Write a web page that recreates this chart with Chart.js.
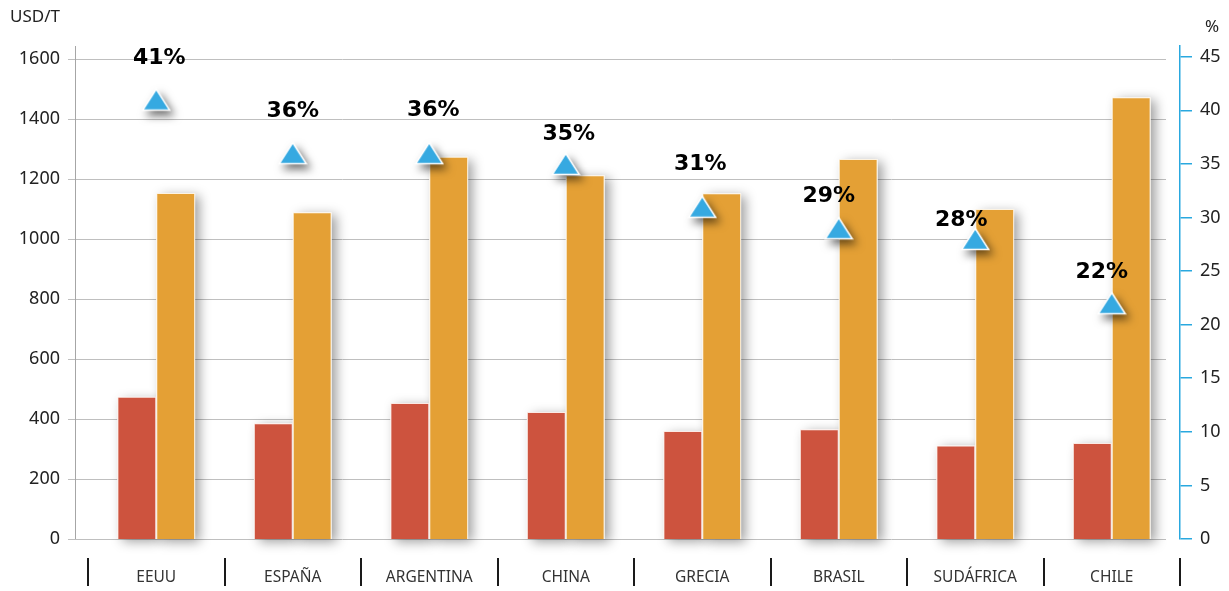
<!DOCTYPE html>
<html>
<head>
<meta charset="utf-8">
<script src="https://cdn.jsdelivr.net/npm/chart.js@4/dist/chart.umd.min.js"></script>
<style>
  html, body { margin: 0; padding: 0; background: #fff; }
  #wrap { width: 1229px; height: 591px; }
</style>
</head>
<body>
<div id="wrap"><canvas id="priceChart" width="1229" height="591"></canvas></div>
<script>
const countries = ["EEUU", "ESPAÑA", "ARGENTINA", "CHINA", "GRECIA", "BRASIL", "SUDÁFRICA", "CHILE"];
const costUSD = [474, 386, 453, 423, 360, 366, 312, 320];
const priceUSD = [1153, 1089, 1274, 1212, 1152, 1266, 1100, 1472];
const marginPct = [41, 36, 36, 35, 31, 29, 28, 22];
const usdTicks = [0, 200, 400, 600, 800, 1000, 1200, 1400, 1600];
const pctTicks = [0, 5, 10, 15, 20, 25, 30, 35, 40, 45];

// nudges for the % labels so they sit where they were placed by hand
const labelShift = [[3, -41], [0, -42], [4, -43], [3, -30], [-2, -42], [-10, -32], [-14, -19], [-10, -31]];

const RED = '#cd533e';
const ORANGE = '#e4a035';
const BLUE = '#36a9e1';
const AXIS_BLUE = '#29a8df';

// triangle marker drawn once on a small canvas, centred on its bounding box
function makeTriangle() {
    const c = document.createElement('canvas');
    c.width = 30; c.height = 26;
    const g = c.getContext('2d');
    g.beginPath();
    g.moveTo(15, 2.5);
    g.lineTo(28.5, 23.5);
    g.lineTo(1.5, 23.5);
    g.closePath();
    g.fillStyle = BLUE;
    g.fill();
    g.strokeStyle = '#fff';
    g.lineWidth = 1.5;
    g.stroke();
    return c;
}

const decorations = {
    id: 'decorations',
    beforeDatasetsDraw(chart) {
        const { ctx, chartArea: a, scales } = chart;
        const y = scales.y;
        ctx.save();
        // horizontal gridlines
        ctx.strokeStyle = '#bfbfbf';
        ctx.lineWidth = 1;
        ctx.beginPath();
        y.ticks.forEach(t => {
            const py = Math.round(y.getPixelForValue(t.value)) + 0.5;
            ctx.moveTo(a.left - 20, py);
            ctx.lineTo(a.right - 14, py);
        });
        ctx.stroke();
        // left axis line
        ctx.strokeStyle = '#a6a6a6';
        ctx.beginPath();
        ctx.moveTo(a.left - 12.5, a.top);
        ctx.lineTo(a.left - 12.5, a.bottom);
        ctx.stroke();
        // soft shadows under the bars
        ctx.shadowColor = 'rgba(0,0,0,0.38)';
        ctx.shadowBlur = 11;
        ctx.shadowOffsetX = 5;
        ctx.shadowOffsetY = 3;
        ctx.fillStyle = '#fff';
        [1, 2].forEach(i => {
            chart.getDatasetMeta(i).data.forEach(bar => {
                const p = bar.getProps(['x', 'y', 'base', 'width']);
                ctx.fillRect(p.x - p.width / 2, p.y, p.width, p.base - p.y);
            });
        });
        ctx.restore();
    },
    beforeDatasetDraw(chart, args) {
        if (args.meta.type === 'line') {
            const ctx = chart.ctx;
            ctx.save();
            ctx.shadowColor = 'rgba(0,0,0,0.55)';
            ctx.shadowBlur = 9;
            ctx.shadowOffsetX = 4;
            ctx.shadowOffsetY = 5;
        }
    },
    afterDatasetDraw(chart, args) {
        if (args.meta.type === 'line') chart.ctx.restore();
    },
    afterDatasetsDraw(chart) {
        const { ctx, chartArea: a, scales } = chart;
        ctx.save();
        // percentage labels above the triangles
        ctx.font = 'bold 22px "DejaVu Sans"';
        ctx.fillStyle = '#000';
        ctx.textAlign = 'center';
        ctx.textBaseline = 'middle';
        chart.getDatasetMeta(0).data.forEach((pt, i) => {
            const [dx, dy] = labelShift[i];
            ctx.fillText(marginPct[i] + '%', pt.x + dx, pt.y + dy);
        });

        // separators between category labels
        const x = scales.x;
        const step = x.getPixelForTick(1) - x.getPixelForTick(0);
        ctx.strokeStyle = '#1a1a1a';
        ctx.lineWidth = 2;
        ctx.beginPath();
        for (let i = 0; i <= countries.length; i++) {
            const px = Math.round(x.getPixelForTick(0) - step / 2 + i * step);
            ctx.moveTo(px, a.bottom + 19);
            ctx.lineTo(px, a.bottom + 47);
        }
        ctx.stroke();

        // unit captions
        ctx.font = '17px "Noto Sans"';
        ctx.fillStyle = '#222';
        ctx.textAlign = 'left';
        ctx.fillText('USD/T', 10, 17);
        ctx.fillText('%', 1205, 27);
        ctx.restore();
    }
};

const ctx = document.getElementById('priceChart').getContext('2d');

new Chart(ctx, {
    data: {
        labels: countries,
        datasets: [
            {
                type: 'line',
                label: 'Margen',
                data: marginPct,
                yAxisID: 'y1',
                showLine: false,
                pointStyle: makeTriangle(),
                pointRadius: 13,
                clip: false,
                order: 0
            },
            {
                type: 'bar',
                label: 'Coste',
                data: costUSD,
                yAxisID: 'y',
                backgroundColor: RED,
                borderColor: '#fbe9e4',
                borderWidth: 1,
                categoryPercentage: 0.57,
                barPercentage: 1.0,
                order: 1
            },
            {
                type: 'bar',
                label: 'Precio',
                data: priceUSD,
                yAxisID: 'y',
                backgroundColor: ORANGE,
                borderColor: '#fdf3e2',
                borderWidth: 1,
                categoryPercentage: 0.57,
                barPercentage: 1.0,
                order: 1
            }
        ]
    },
    plugins: [decorations],
    options: {
        responsive: false,
        animation: false,
        devicePixelRatio: 1,
        layout: { padding: { top: 46, left: 0, right: 0, bottom: 0 } },
        plugins: {
            legend: { display: false },
            tooltip: { enabled: false }
        },
        scales: {
            x: {
                grid: { display: false, drawTicks: false },
                border: { display: false },
                ticks: {
                    color: '#333',
                    font: { family: 'Noto Sans', size: 15.5 },
                    padding: 29,
                    maxRotation: 0,
                    autoSkip: false
                },
                afterFit: s => { s.height = 52; }
            },
            y: {
                position: 'left',
                min: 0,
                max: 1643,
                afterBuildTicks: s => { s.ticks = usdTicks.map(v => ({ value: v })); },
                grid: { display: false, drawTicks: false },
                border: { display: false },
                ticks: {
                    color: '#222',
                    font: { family: 'Noto Sans', size: 18 },
                    padding: 28,
                    callback: v => String(v)
                },
                afterFit: s => { s.width = 88; }
            },
            y1: {
                position: 'right',
                min: 0,
                max: 46,
                afterBuildTicks: s => { s.ticks = pctTicks.map(v => ({ value: v })); },
                grid: {
                    drawOnChartArea: false,
                    drawTicks: true,
                    tickLength: 12,
                    color: AXIS_BLUE,
                    lineWidth: 1.5
                },
                border: { color: AXIS_BLUE, width: 1.5 },
                ticks: {
                    color: '#222',
                    font: { family: 'Noto Sans', size: 18 },
                    padding: 8,
                    callback: v => String(v)
                },
                afterFit: s => { s.width = 49; }
            }
        }
    }
});
</script>
</body>
</html>
